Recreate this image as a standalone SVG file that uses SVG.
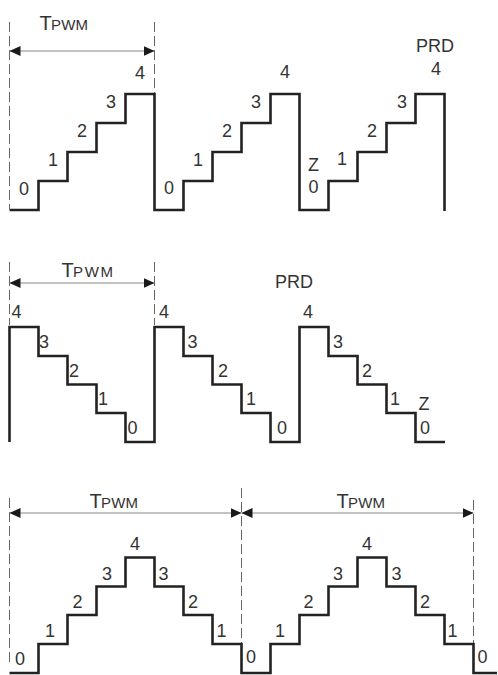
<svg xmlns="http://www.w3.org/2000/svg" width="498" height="675" viewBox="0 0 498 675">
<style>
.wave{fill:none;stroke:#222;stroke-width:2.6;stroke-linejoin:miter;stroke-linecap:butt}
.dash{fill:none;stroke:#666;stroke-width:1;stroke-dasharray:10 4}
.dim{fill:none;stroke:#888;stroke-width:1.2;marker-start:url(#ah);marker-end:url(#ah)}
text{font-family:"Liberation Sans",Arial,sans-serif;fill:#333}
.lb{font-size:18px;text-anchor:middle}
.T{font-size:20px}
.sub{font-size:15px}
</style>
<defs>
<marker id="ah" markerUnits="userSpaceOnUse" markerWidth="11" markerHeight="10" refX="11" refY="5" orient="auto-start-reverse" viewBox="0 0 11 10">
<path d="M0,0 L11,5 L0,10 z" fill="#1a1a1a"/>
</marker>
</defs>

<g id="connectors">
<line class="dash" x1="9.5" y1="22" x2="9.5" y2="209"/>
<line class="dash" x1="154.5" y1="22" x2="154.5" y2="93"/>
<line class="dim" x1="9.5" y1="51" x2="154.5" y2="51"/>
<line class="dash" x1="9.5" y1="262" x2="9.5" y2="325"/>
<line class="dash" x1="154.5" y1="262" x2="154.5" y2="325"/>
<line class="dim" x1="9.5" y1="283" x2="154.5" y2="283"/>
<line class="dash" x1="9.5" y1="498" x2="9.5" y2="666"/>
<line class="dash" x1="241.5" y1="488" x2="241.5" y2="643"/>
<line class="dash" x1="473.5" y1="500" x2="473.5" y2="643"/>
<line class="dim" x1="9.5" y1="513" x2="241.5" y2="513"/>
<line class="dim" x1="241.5" y1="513" x2="473.5" y2="513"/>
</g>

<g id="up-count">
<text y="30"><tspan class="T" x="39.5">T</tspan><tspan class="sub" x="51" textLength="37">PWM</tspan></text>
<path class="wave" d="M9.5,210 H38.5 V181 H67.5 V152 H96.5 V123 H125.5 V94 H154.5 V210 H183.5 V181 H212.5 V152 H241.5 V123 H270.5 V94 H299.5 V210 H328.5 V181 H357.5 V152 H386.5 V123 H415.5 V94 H444.5 V211"/>
<text class="lb" x="24" y="195">0</text>
<text class="lb" x="53" y="166">1</text>
<text class="lb" x="82" y="137">2</text>
<text class="lb" x="111" y="108">3</text>
<text class="lb" x="140" y="79">4</text>
<text class="lb" x="169" y="194">0</text>
<text class="lb" x="198" y="166">1</text>
<text class="lb" x="227" y="137">2</text>
<text class="lb" x="256" y="108">3</text>
<text class="lb" x="285" y="78">4</text>
<text class="lb" x="313.5" y="171">Z</text>
<text class="lb" x="313.5" y="193">0</text>
<text class="lb" x="342" y="165">1</text>
<text class="lb" x="372" y="137">2</text>
<text class="lb" x="402" y="108">3</text>
<text class="lb" x="436" y="75">4</text>
<text class="lb" x="435" y="51.5">PRD</text>
</g>

<g id="down-count">
<text y="277"><tspan class="T" x="61.5">T</tspan><tspan class="sub" x="73" textLength="40">PWM</tspan></text>
<path class="wave" d="M9.5,442 V327 H38.5 V356 H67.5 V384.5 H96.5 V413 H125.5 V442 H154.5 V327 H183.5 V356 H212.5 V384.5 H241.5 V413 H270.5 V442 H299.5 V327 H328.5 V356 H357.5 V384.5 H386.5 V413 H415.5 V442 H445"/>
<text class="lb" x="16.5" y="318">4</text>
<text class="lb" x="44" y="347.5">3</text>
<text class="lb" x="74" y="377">2</text>
<text class="lb" x="103" y="405">1</text>
<text class="lb" x="132.5" y="434">0</text>
<text class="lb" x="164" y="318">4</text>
<text class="lb" x="192.5" y="347.5">3</text>
<text class="lb" x="223" y="377">2</text>
<text class="lb" x="251" y="405">1</text>
<text class="lb" x="282" y="434">0</text>
<text class="lb" x="294" y="288">PRD</text>
<text class="lb" x="308" y="318">4</text>
<text class="lb" x="338" y="347.5">3</text>
<text class="lb" x="367" y="377">2</text>
<text class="lb" x="395" y="405">1</text>
<text class="lb" x="424" y="410">Z</text>
<text class="lb" x="425" y="434">0</text>
</g>

<g id="up-down-count">
<text y="508"><tspan class="T" x="89.5">T</tspan><tspan class="sub" x="101" textLength="37">PWM</tspan></text>
<text y="508"><tspan class="T" x="336.5">T</tspan><tspan class="sub" x="348" textLength="37">PWM</tspan></text>
<path class="wave" d="M9.5,673 H38.5 V644 H67.5 V615 H96.5 V586.5 H125.5 V557.5 H154.5 V586.5 H183.5 V615 H212.5 V644 H241.5 V673 H270.5 V644 H299.5 V615 H328.5 V586.5 H357.5 V557.5 H386.5 V586.5 H415.5 V615 H444.5 V644 H473.5 V673 H497"/>
<text class="lb" x="20" y="665">0</text>
<text class="lb" x="50" y="637">1</text>
<text class="lb" x="77.5" y="608">2</text>
<text class="lb" x="107" y="580">3</text>
<text class="lb" x="135" y="550">4</text>
<text class="lb" x="163.5" y="580">3</text>
<text class="lb" x="193" y="608">2</text>
<text class="lb" x="221.5" y="637">1</text>
<text class="lb" x="251" y="663">0</text>
<text class="lb" x="280" y="637">1</text>
<text class="lb" x="308.5" y="608">2</text>
<text class="lb" x="338" y="580">3</text>
<text class="lb" x="367" y="550">4</text>
<text class="lb" x="396.5" y="580">3</text>
<text class="lb" x="425" y="608">2</text>
<text class="lb" x="452.5" y="637">1</text>
<text class="lb" x="482.5" y="663">0</text>
</g>
</svg>
